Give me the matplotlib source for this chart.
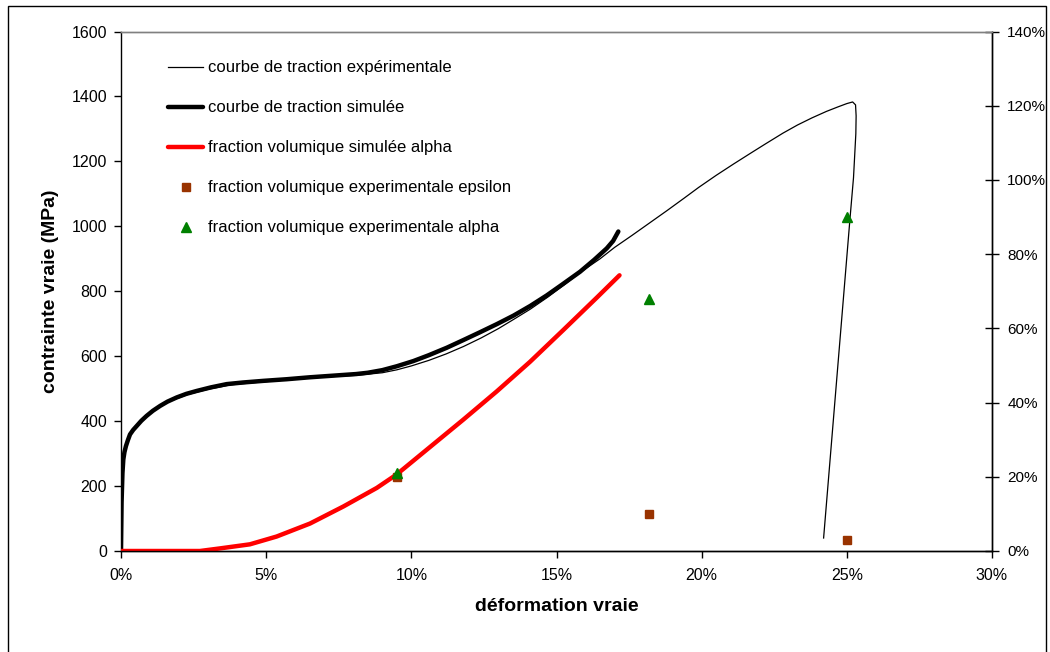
import matplotlib.pyplot as plt
from matplotlib.patches import Rectangle
from matplotlib.ticker import PercentFormatter, MultipleLocator

plt.rcParams['font.family'] = ['Liberation Sans', 'DejaVu Sans']

# experimental tensile curve (strain in %, true stress in MPa)
exp_strain = [0, 0.03, 0.06, 0.1, 0.17, 0.3, 0.5, 0.8, 1.2, 1.7, 2.3, 3.0, 3.8,
              4.9, 6.0, 7.0, 8.1, 9.0, 9.5, 10.0, 10.6, 11.2, 11.8, 12.4, 13.0,
              13.5, 14.1, 14.7, 15.3, 15.8, 16.5, 17.0, 17.6, 18.2, 18.8, 19.4,
              19.9, 20.5, 21.1, 21.7, 22.2, 22.8, 23.3, 23.8, 24.3, 24.7, 25.0,
              25.2, 25.3, 25.32, 25.31, 25.23, 25.11, 24.2]
exp_stress = [0, 200, 250, 285, 320, 355, 382, 410, 438, 462, 482, 498, 512,
              521, 529, 536, 541, 549, 558, 570, 587, 607, 630, 656, 685,
              712, 745, 782, 822, 857, 900, 935, 972, 1010, 1048, 1087,
              1120, 1157, 1192, 1226, 1254, 1287, 1312, 1334, 1354, 1368, 1378,
              1383, 1374, 1340, 1285, 1150, 1025, 40]

# simulated tensile curve
sim_strain = [0, 0.02, 0.05, 0.08, 0.12, 0.17, 0.24, 0.31, 0.42, 0.54, 0.7, 0.88,
              1.1, 1.35, 1.6, 1.92, 2.25, 2.61, 3.1, 3.64, 4.2, 4.9, 5.7, 6.5,
              7.3, 8.1, 8.5, 9.0, 9.5, 10.07, 10.6, 11.22, 11.8, 12.37, 12.95,
              13.52, 14.1, 14.66, 15.2, 15.81, 16.3, 16.73, 16.95, 17.13]
sim_stress = [0, 150, 240, 282, 305, 323, 342, 359, 373, 385, 401, 416,
              432, 447, 460, 473, 484, 493, 504, 514, 519, 524, 529, 535,
              540, 545, 549, 557, 569, 585, 603, 626, 650, 674, 699,
              725, 755, 787, 821, 860, 897, 932, 955, 984]

# simulated alpha volume fraction (%)
alpha_sim_strain = [0, 2.72, 3.41, 4.44, 5.36, 6.51, 7.66, 8.81, 9.49, 10.64,
                    11.79, 12.94, 14.09, 15.24, 16.39, 17.17]
alpha_sim_frac = [0, 0, 0.7, 1.8, 3.9, 7.4, 12.0, 17.0, 20.6, 28.0,
                  35.4, 43.0, 51.0, 59.6, 68.3, 74.3]

# measured volume fractions (%)
meas_strain = [9.5, 18.2, 25.0]
eps_frac = [20, 10, 3]
alpha_frac = [21, 68, 90]

pct = lambda v: [x / 100 for x in v]

fig = plt.figure(figsize=(10.5, 6.52), dpi=100)
fig.patches.append(Rectangle((8 / 1050, -0.05), 1038 / 1050, 1.05 - 6 / 652,
                             transform=fig.transFigure, fill=False,
                             edgecolor='black', linewidth=1.0))

ax = fig.add_axes([121 / 1050, 101 / 652, 871 / 1050, 519.5 / 652])
ax2 = ax.twinx()

l1, = ax.plot(pct(exp_strain), exp_stress, color='black', linewidth=0.9,
              label='courbe de traction expérimentale')
l2, = ax.plot(pct(sim_strain), sim_stress, color='black', linewidth=3.2,
              solid_capstyle='round', label='courbe de traction simulée')
l3, = ax2.plot(pct(alpha_sim_strain), pct(alpha_sim_frac), color='#ff0000',
               linewidth=3.2, solid_capstyle='round',
               label='fraction volumique simulée alpha')
l4, = ax2.plot(pct(meas_strain), pct(eps_frac), linestyle='none', marker='s',
               markersize=5.5, color='#993300',
               label='fraction volumique experimentale epsilon')
l5, = ax2.plot(pct(meas_strain), pct(alpha_frac), linestyle='none', marker='^',
               markersize=7, color='#008000',
               label='fraction volumique experimentale alpha')

ax.set_xlim(0, 0.30)
ax.set_ylim(0, 1600)
ax2.set_ylim(0, 1.4)
ax.xaxis.set_major_locator(MultipleLocator(0.05))
ax.xaxis.set_major_formatter(PercentFormatter(1.0, decimals=0))
ax.yaxis.set_major_locator(MultipleLocator(200))
ax2.yaxis.set_major_locator(MultipleLocator(0.2))
ax2.yaxis.set_major_formatter(PercentFormatter(1.0, decimals=0))

for a in (ax, ax2):
    for s in a.spines.values():
        s.set_linewidth(1.0)
    a.spines['top'].set_color('#808080')
ax2.spines['left'].set_visible(False)

ax.tick_params(axis='both', labelsize=11.5, length=5, width=1, direction='out')
ax.tick_params(axis='y', pad=5)
ax.tick_params(axis='x', pad=7)
ax2.tick_params(axis='y', labelsize=11, length=10, width=1, direction='inout', pad=6)

ax.set_xlabel('déformation vraie', fontsize=14, fontweight='bold', labelpad=11)
ax.set_ylabel('contrainte vraie (MPa)', fontsize=14, fontweight='bold', labelpad=9)

ax2.legend(handles=[l1, l2, l3, l4, l5], loc='upper left', frameon=False,
           bbox_to_anchor=(160 / 1050, 1 - 52 / 652), bbox_transform=fig.transFigure,
           fontsize=12, handlelength=2.1, handletextpad=0.25, labelspacing=1.5,
           borderpad=0, numpoints=1)

fig.savefig('out.png', dpi=100)
